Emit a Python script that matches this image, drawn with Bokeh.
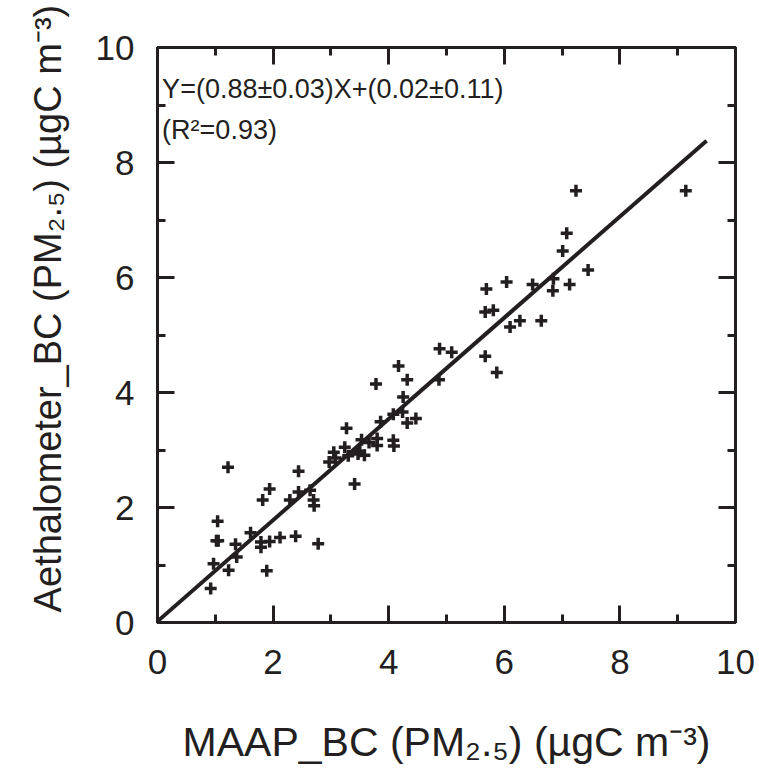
import numpy as np
from bokeh.plotting import figure
from bokeh.models import LinearAxis, SingleIntervalTicker, Label, ColumnDataSource, Range1d, CustomJSTickFormatter
from bokeh.embed import file_html
from bokeh.resources import INLINE

# MAAP BC (x) vs Aethalometer BC (y), ugC m-3
maap_bc = [0.92, 0.97, 1.02, 1.05, 1.04, 1.22, 1.23, 1.35, 1.37, 1.61,
           1.79, 1.79, 1.82, 1.89, 1.94, 1.94, 2.12, 2.29, 2.39, 2.44,
           2.44, 2.64, 2.70, 2.71, 2.78,
           2.97, 3.05, 3.08, 3.24, 3.27, 3.30, 3.41, 3.47, 3.50, 3.53,
           3.58, 3.66, 3.80, 3.80, 3.78, 3.86, 4.08, 4.09, 4.08, 4.17,
           4.24, 4.25, 4.32, 4.32, 4.47,
           4.87, 4.88, 5.09, 5.67, 5.87, 5.67, 5.81, 5.69, 6.10, 6.04,
           6.27, 6.49, 6.64, 6.85, 6.84, 7.13, 7.01, 7.08, 7.24, 7.45, 9.14]
aeth_bc = [0.59, 1.02, 1.42, 1.42, 1.76, 2.70, 0.91, 1.36, 1.14, 1.56,
           1.40, 1.31, 2.13, 0.90, 1.41, 2.32, 1.48, 2.13, 1.50, 2.63,
           2.27, 2.30, 2.13, 2.03, 1.37,
           2.79, 2.96, 2.86, 3.05, 3.38, 2.90, 2.41, 2.93, 2.98, 3.18,
           2.91, 3.13, 3.20, 3.08, 4.15, 3.49, 3.17, 3.07, 3.62, 4.46,
           3.66, 3.92, 4.22, 3.47, 3.55,
           4.22, 4.76, 4.70, 4.63, 4.35, 5.40, 5.43, 5.80, 5.14, 5.92,
           5.25, 5.88, 5.25, 5.98, 5.77, 5.88, 6.46, 6.77, 7.51, 6.13, 7.51]

slope = 0.88
intercept = 0.02
fit_x = [0.0, 9.5]
fit_y = [slope * v + intercept for v in fit_x]

eq_text = "Y=(0.88\u00b10.03)X+(0.02\u00b10.11)"
r2_text = "(R\u00b2=0.93)"
x_label = "MAAP_BC (PM\u2082.\u2085) (\u00b5gC m\u207b\u00b3)"
y_label = "\u00a0" * 5 + "Aethalometer_BC (PM\u2082.\u2085) (\u00b5gC m\u207b\u00b3)"

INK = "#231f20"
FONT = "Liberation Sans"

p = figure(width=759, height=777, x_range=Range1d(0, 10), y_range=Range1d(0, 10),
           output_backend="svg", toolbar_location=None,
           min_border_left=157, min_border_right=24, min_border_top=47, min_border_bottom=155,
           x_axis_location=None, y_axis_location=None)
p.xgrid.visible = False
p.ygrid.visible = False
p.outline_line_color = INK
p.outline_line_width = 3
p.background_fill_color = "white"
p.border_fill_color = "white"


def make_axis(show_labels):
    ax = LinearAxis(ticker=SingleIntervalTicker(interval=2, num_minor_ticks=2))
    ax.axis_line_color = INK
    ax.axis_line_width = 3
    ax.major_tick_line_color = INK
    ax.major_tick_line_width = 3
    ax.minor_tick_line_color = INK
    ax.minor_tick_line_width = 3
    ax.major_tick_in = 17
    ax.major_tick_out = 0
    ax.minor_tick_in = 8
    ax.minor_tick_out = 0
    ax.major_label_text_font = FONT
    ax.major_label_text_color = INK
    ax.axis_label_text_font = FONT
    ax.axis_label_text_font_style = "normal"
    ax.axis_label_text_color = INK
    if show_labels:
        ax.major_label_text_font_size = "35px"
    else:
        ax.formatter = CustomJSTickFormatter(code="return ''")
        ax.major_label_standoff = 0
    return ax


bottom = make_axis(True)
bottom.major_label_standoff = 27
bottom.axis_label = x_label
bottom.axis_label_text_font_size = "41px"
bottom.axis_label_standoff = 42
left = make_axis(True)
left.major_label_standoff = 23
left.axis_label = y_label
left.axis_label_text_font_size = "38px"
left.axis_label_standoff = 24
top = make_axis(False)
right = make_axis(False)
p.add_layout(bottom, "below")
p.add_layout(left, "left")
p.add_layout(top, "above")
p.add_layout(right, "right")

p.line(fit_x, fit_y, line_color=INK, line_width=4)
src = ColumnDataSource(dict(x=maap_bc, y=aeth_bc))
p.scatter("x", "y", source=src, marker="cross", size=12, line_width=3.5, line_color=INK)

p.add_layout(Label(x=0.08, y=9.28, text=eq_text, text_font=FONT, text_font_size="27px",
                   text_color=INK, text_baseline="alphabetic", text_align="left"))
p.add_layout(Label(x=0.08, y=8.56, text=r2_text, text_font=FONT, text_font_size="27px",
                   text_color=INK, text_baseline="alphabetic", text_align="left"))

open("out.html", "w").write(file_html(p, INLINE))
